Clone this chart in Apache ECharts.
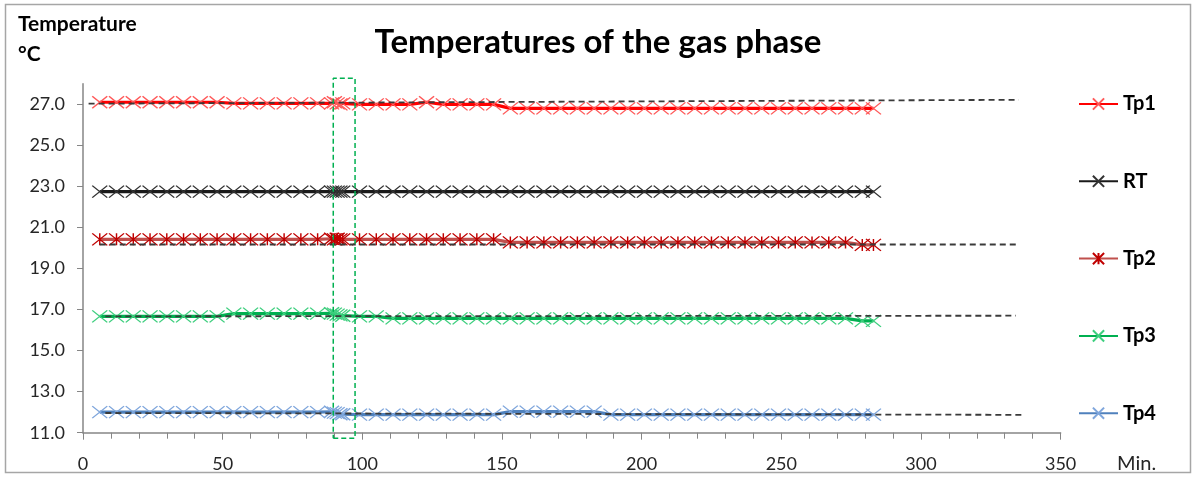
<!DOCTYPE html>
<html>
<head>
<meta charset="utf-8">
<script src="https://cdn.jsdelivr.net/npm/echarts@6/dist/echarts.min.js"></script>
<style>
  html, body { margin: 0; padding: 0; background: #ffffff; }
  #chart { width: 1196px; height: 477px; }
</style>
</head>
<body>
<div id="chart"></div>
<script>
// Sampling times (min.)
const times = [6, 12, 18, 24, 30, 36, 42, 48, 54, 60, 66, 72, 78, 84,
  89, 90, 91, 92, 93,
  99, 105, 111, 117, 123, 129, 135, 141, 147, 153, 159, 165, 171, 177, 183,
  189, 195, 201, 207, 213, 219, 225, 231, 237, 243, 249, 255, 261, 267, 273, 279, 283];

// Gas-phase temperatures (°C)
const tp1 = [27.1, 27.1, 27.1, 27.1, 27.1, 27.1, 27.1, 27.1, 27.05, 27.05, 27.05, 27.05, 27.05, 27.05,
  27.05, 27.1, 27.05, 27.0, 27.05,
  27.0, 27.0, 27.0, 27.0, 27.1, 27.0, 27.0, 27.0, 27.0, 26.8, 26.8, 26.8, 26.8, 26.8, 26.8,
  26.8, 26.8, 26.8, 26.8, 26.8, 26.8, 26.8, 26.8, 26.8, 26.8, 26.8, 26.8, 26.8, 26.8, 26.8, 26.8, 26.8];
const rt = [22.75, 22.75, 22.75, 22.75, 22.75, 22.75, 22.75, 22.75, 22.75, 22.75, 22.75, 22.75, 22.75, 22.75,
  22.75, 22.75, 22.75, 22.75, 22.75,
  22.75, 22.75, 22.75, 22.75, 22.75, 22.75, 22.75, 22.75, 22.75, 22.75, 22.75, 22.75, 22.75, 22.75, 22.75,
  22.75, 22.75, 22.75, 22.75, 22.75, 22.75, 22.75, 22.75, 22.75, 22.75, 22.75, 22.75, 22.75, 22.75, 22.75, 22.75, 22.75];
const tp2 = [20.42, 20.42, 20.42, 20.42, 20.42, 20.42, 20.42, 20.42, 20.42, 20.42, 20.42, 20.42, 20.42, 20.42,
  20.45, 20.42, 20.45, 20.42, 20.42,
  20.42, 20.42, 20.42, 20.42, 20.42, 20.42, 20.42, 20.42, 20.42, 20.27, 20.27, 20.27, 20.27, 20.27, 20.27,
  20.27, 20.27, 20.27, 20.27, 20.27, 20.27, 20.27, 20.27, 20.27, 20.27, 20.27, 20.27, 20.27, 20.27, 20.27, 20.15, 20.15];
const tp3 = [16.67, 16.67, 16.67, 16.67, 16.67, 16.67, 16.67, 16.67, 16.8, 16.8, 16.8, 16.8, 16.8, 16.8,
  16.82, 16.8, 16.75, 16.72, 16.7,
  16.67, 16.67, 16.57, 16.57, 16.57, 16.57, 16.57, 16.57, 16.57, 16.57, 16.57, 16.57, 16.57, 16.57, 16.57,
  16.57, 16.57, 16.57, 16.57, 16.57, 16.57, 16.57, 16.57, 16.57, 16.57, 16.57, 16.57, 16.57, 16.57, 16.57, 16.45, 16.45];
const tp4 = [12.0, 12.0, 12.0, 12.0, 12.0, 12.0, 12.0, 12.0, 12.0, 12.0, 12.0, 12.0, 12.0, 12.0,
  12.02, 11.98, 11.95, 11.9, 11.9,
  11.88, 11.88, 11.88, 11.88, 11.88, 11.88, 11.88, 11.88, 11.88, 12.03, 12.03, 12.03, 12.03, 12.03, 12.03,
  11.88, 11.88, 11.88, 11.88, 11.88, 11.88, 11.88, 11.88, 11.88, 11.88, 11.88, 11.88, 11.88, 11.88, 11.88, 11.88, 11.88];

// Dashed reference lines: [min, °C] end points
const refTp1 = [[2, 27.03], [335, 27.22]];
const refTp2 = [[6, 20.17], [334, 20.17]];
const refTp3 = [[8, 16.67], [334, 16.7]];
const refTp4 = [[8, 11.96], [336, 11.87]];

// Highlighted interval (dashed green frame)
const frameX = [89.6, 97.4];
const frameY = [10.73, 28.27];

// Axis ticks
const yTicks = [11, 13, 15, 17, 19, 21, 23, 25, 27];
const seriesNames = ['Tp1', 'RT', 'Tp2', 'Tp3', 'Tp4'];

const FONT = 'Lato, "Open Sans", sans-serif';
const CROSS = 'path://M0,0L14,12M14,0L0,12';
const STAR = 'path://M0,0L14,12M14,0L0,12M7,0L7,12';

function pairs(vals) {
  return times.map((t, i) => [t, vals[i]]);
}

function dataSeries(name, vals, lineColor, markColor, symbol) {
  return {
    name: name,
    type: 'line',
    data: pairs(vals),
    symbol: symbol,
    symbolSize: [15, 12],
    showAllSymbol: true,
    lineStyle: { color: lineColor, width: 3.2 },
    itemStyle: { color: 'rgba(0,0,0,0)', borderColor: markColor, borderWidth: 1.3 },
    emphasis: { disabled: true },
    z: 3
  };
}

function refSeries(pts) {
  return {
    type: 'line',
    data: pts,
    symbol: 'none',
    silent: true,
    lineStyle: { color: '#3a3a3a', width: 1.8, type: [6, 4] },
    emphasis: { disabled: true },
    z: 4
  };
}

const chart = echarts.init(document.getElementById('chart'), null, { renderer: 'canvas' });

chart.setOption({
  animation: false,
  backgroundColor: '#ffffff',
  title: {
    text: 'Temperatures of the gas phase',
    left: 'center',
    top: 21,
    textStyle: { fontFamily: FONT, fontSize: 33, fontWeight: 'bold', color: '#000000' }
  },
  graphic: [
    {
      type: 'rect',
      shape: { x: 5.5, y: 4.5, width: 1185, height: 468 },
      style: { fill: 'none', stroke: '#a6a6a6', lineWidth: 1.5 },
      silent: true
    },
    {
      type: 'text', left: 18, top: 14,
      style: { text: 'Temperature', font: 'bold 21px ' + FONT, fill: '#000000' }
    },
    {
      type: 'text', left: 18, top: 44,
      style: { text: '°C', font: 'bold 21px ' + FONT, fill: '#000000' }
    },
    {
      type: 'text', left: 1117, top: 454,
      style: { text: 'Min.', font: '20px ' + FONT, fill: '#262626' }
    }
  ],
  legend: {
    data: seriesNames,
    orient: 'vertical',
    left: 1078,
    top: 94,
    padding: 0,
    itemWidth: 39,
    itemHeight: 14,
    itemGap: 57.3,
    textStyle: { fontFamily: FONT, fontSize: 20, fontWeight: 'bold', color: '#000000', lineHeight: 20 },
    selectedMode: false
  },
  grid: { left: 83, right: 135.4, top: 83.8, bottom: 44.3, containLabel: false },
  xAxis: {
    type: 'value',
    min: 0,
    max: 350,
    interval: 50,
    axisLine: { show: true, lineStyle: { color: '#868686', width: 1.5 } },
    axisTick: { show: true, length: 7, lineStyle: { color: '#868686', width: 1 } },
    minorTick: { show: true, splitNumber: 5, length: 6, lineStyle: { color: '#868686', width: 1 } },
    splitLine: { show: false },
    minorSplitLine: { show: false },
    axisLabel: { fontFamily: FONT, fontSize: 18, color: '#262626', margin: 22 }
  },
  yAxis: {
    type: 'value',
    min: 11,
    max: 28,
    axisLine: { show: true, lineStyle: { color: '#868686', width: 1.5 } },
    axisTick: { show: true, length: 6, customValues: yTicks, lineStyle: { color: '#868686', width: 1 } },
    splitLine: { show: false },
    axisLabel: {
      customValues: yTicks,
      fontFamily: FONT, fontSize: 18, color: '#262626', margin: 18,
      formatter: v => v.toFixed(1)
    }
  },
  series: [
    dataSeries('Tp1', tp1, '#ff0000', '#ff5a5a', CROSS),
    dataSeries('RT', rt, '#1a1a1a', '#333333', CROSS),
    dataSeries('Tp2', tp2, '#c0504d', '#c00000', STAR),
    dataSeries('Tp3', tp3, '#00b050', '#3fcf7f', CROSS),
    dataSeries('Tp4', tp4, '#4f81bd', '#7fa6dc', CROSS),
    refSeries(refTp1),
    refSeries(refTp2),
    refSeries(refTp3),
    refSeries(refTp4),
    {
      type: 'line',
      data: [[frameX[0], frameY[0]], [frameX[1], frameY[0]], [frameX[1], frameY[1]],
             [frameX[0], frameY[1]], [frameX[0], frameY[0]]],
      symbol: 'none',
      clip: false,
      silent: true,
      lineStyle: { color: '#00b050', width: 1.5, type: [5, 3] },
      emphasis: { disabled: true },
      z: 5
    }
  ]
});
</script>
</body>
</html>
